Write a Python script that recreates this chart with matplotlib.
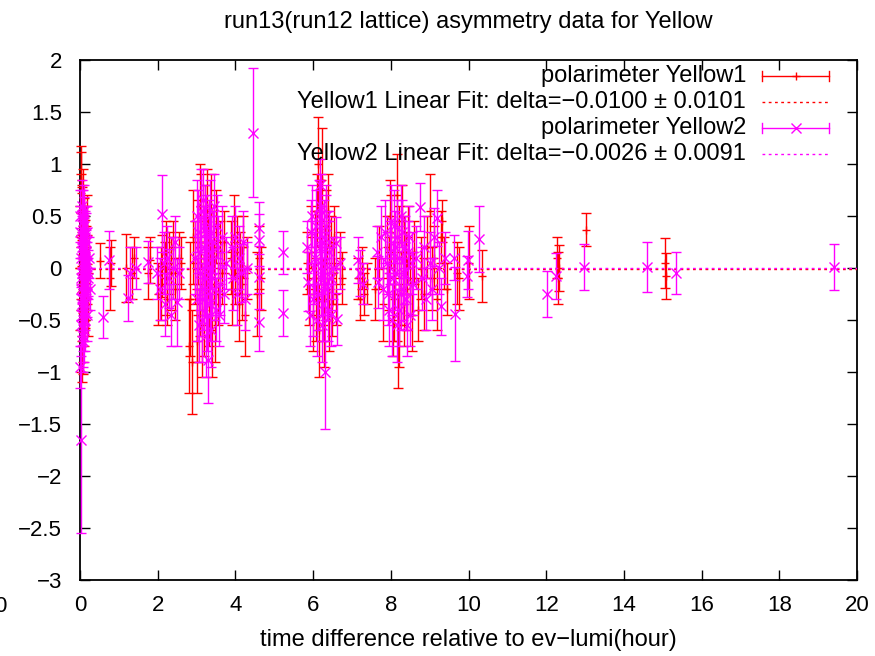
import matplotlib
matplotlib.use("Agg")
import matplotlib.pyplot as plt
from matplotlib.lines import Line2D

plt.rcParams['font.family'] = ['Liberation Sans', 'DejaVu Sans']

title = "run13(run12 lattice) asymmetry data for Yellow"
xlabel = "time difference relative to ev\u2212lumi(hour)"
xticks = [0, 2, 4, 6, 8, 10, 12, 14, 16, 18, 20]
yticks = [-3, -2.5, -2, -1.5, -1, -0.5, 0, 0.5, 1, 1.5, 2]
ytick_labels = ["\u22123", "\u22122.5", "\u22122", "\u22121.5", "\u22121", "\u22120.5", "0", "0.5", "1", "1.5", "2"]

label1 = "polarimeter Yellow1"
fit1_label = "Yellow1 Linear Fit: delta=\u22120.0100 \u00b1 0.0101"
label2 = "polarimeter Yellow2"
fit2_label = "Yellow2 Linear Fit: delta=\u22120.0026 \u00b1 0.0091"
fit1_delta = -0.0100
fit2_delta = -0.0026

# Yellow1 (red)
y1_x = [0.02, 0.03, 0.04, 0.05, 0.06, 0.07, 0.08, 0.09, 0.10, 0.11, 0.12, 0.13, 0.14, 0.15, 0.16,
        0.03, 0.05, 0.07, 0.09, 0.11, 0.13, 0.04, 0.06, 0.08, 0.10, 0.12, 0.02, 0.14, 0.17, 0.19,
        0.51, 0.76, 0.80, 1.18, 1.33, 1.38, 1.75, 1.80,
        2.02, 2.08, 2.12, 2.18, 2.22, 2.25, 2.30, 2.35, 2.40, 2.45, 2.55, 2.60,
        2.80, 2.83, 2.88, 2.95, 3.00, 3.05, 3.08, 3.12, 3.15, 3.18, 3.22, 3.25, 3.28, 3.32, 3.35, 3.40,
        3.45, 3.50, 3.55, 3.60, 3.65, 3.70,
        3.88, 3.92, 3.96, 4.00, 4.04, 4.08, 4.12, 4.16, 4.20, 4.25, 4.30, 4.55, 4.60, 4.65,
        5.85, 5.90, 5.95, 6.00, 6.05, 6.10, 6.13, 6.16, 6.20, 6.23, 6.26, 6.30, 6.33, 6.36, 6.40, 6.45,
        6.50, 6.55, 6.60, 6.70, 6.75,
        7.15, 7.20, 7.25, 7.30, 7.38,
        7.60, 7.70, 7.80, 7.90, 7.95, 8.00, 8.05, 8.10, 8.15, 8.18, 8.20, 8.25, 8.30, 8.35, 8.40, 8.45,
        8.50, 8.55, 8.60,
        8.70, 8.78, 8.85, 8.92, 9.00, 9.05, 9.12, 9.20, 9.28, 9.32, 9.38, 9.45,
        9.70, 9.75, 10.00, 10.35,
        12.28, 12.30, 12.32, 13.03, 15.06, 15.08,
        2.90, 3.02, 3.10, 3.20, 3.30, 3.38, 3.48,
        6.08, 6.18, 6.28, 6.38, 6.48,
        7.98, 8.08, 8.22, 8.33, 8.42,
        0.00, 0.01, 0.18, 0.20]
y1_val = [0.55, 0.72, -0.35, 0.40, 0.10, -0.62, 0.25, -0.15, 0.35, -0.45, 0.05, 0.18, -0.28, 0.30, -0.05,
          0.85, -0.75, 0.60, -0.55, 0.15, -0.20, 0.45, 0.02, -0.40, 0.22, -0.10, -0.70, 0.08, 0.12, -0.18,
          0.07, -0.10, 0.05, 0.00, -0.05, 0.10, -0.05, 0.08,
          -0.25, -0.15, 0.02, -0.10, 0.15, -0.30, 0.05, -0.05, 0.20, -0.20, 0.10, 0.05,
          -0.75, -0.30, -0.90, 0.05, -0.45, 0.25, -0.20, 0.45, -0.55, 0.10, 0.35, -0.10, 0.60, -0.35, 0.20, -0.60,
          0.00, 0.40, -0.25, 0.15, -0.05, 0.25,
          0.10, -0.20, 0.30, -0.05, 0.15, -0.35, 0.05, -0.15, 0.20, -0.45, 0.00, -0.25, 0.10, -0.10,
          0.05, -0.20, 0.30, -0.45, 0.15, 0.55, 1.00, -0.60, 0.25, 0.85, -0.30, 0.05, 0.40, -0.15, -0.50, 0.20,
          -0.05, 0.30, -0.25, 0.10, -0.10,
          -0.10, -0.30, 0.00, -0.25, -0.15,
          -0.20, 0.10, -0.35, 0.20, -0.05, 0.35, -0.50, 0.10, 0.70, -0.70, 0.25, -0.20, 0.45, -0.35, 0.05, 0.30,
          -0.15, -0.45, 0.15,
          -0.40, 0.00, -0.25, 0.20, 0.55, -0.10, 0.10, -0.30, 0.30, 0.45, 0.05, -0.20,
          -0.05, -0.10, 0.05, -0.08,
          0.10, -0.10, 0.00, 0.37, 0.05, -0.08,
          0.30, -0.70, 0.60, -0.40, 0.10, 0.55, -0.50,
          -0.30, 0.45, -0.55, 0.55, -0.35,
          0.50, -0.30, -0.55, 0.15, -0.25,
          0.30, -0.30, 0.40, -0.35]
y1_err = [0.35, 0.40, 0.30, 0.38, 0.25, 0.40, 0.30, 0.28, 0.32, 0.30, 0.25, 0.28, 0.30, 0.30, 0.25,
          0.32, 0.35, 0.35, 0.35, 0.25, 0.30, 0.35, 0.25, 0.30, 0.28, 0.25, 0.30, 0.22, 0.20, 0.22,
          0.17, 0.30, 0.22, 0.33, 0.25, 0.20, 0.25, 0.22,
          0.30, 0.35, 0.30, 0.35, 0.30, 0.25, 0.30, 0.35, 0.25, 0.30, 0.25, 0.25,
          0.45, 0.55, 0.50, 0.40, 0.45, 0.40, 0.45, 0.45, 0.50, 0.40, 0.45, 0.35, 0.35, 0.40, 0.35, 0.45,
          0.35, 0.35, 0.30, 0.30, 0.30, 0.30,
          0.35, 0.35, 0.40, 0.30, 0.35, 0.35, 0.30, 0.35, 0.30, 0.40, 0.30, 0.40, 0.30, 0.30,
          0.30, 0.35, 0.30, 0.35, 0.40, 0.35, 0.45, 0.45, 0.35, 0.50, 0.40, 0.35, 0.35, 0.35, 0.30, 0.30,
          0.30, 0.30, 0.30, 0.25, 0.25,
          0.20, 0.20, 0.20, 0.20, 0.20,
          0.30, 0.30, 0.35, 0.30, 0.35, 0.35, 0.35, 0.35, 0.40, 0.45, 0.35, 0.35, 0.35, 0.40, 0.30, 0.30,
          0.30, 0.35, 0.30,
          0.30, 0.30, 0.35, 0.30, 0.35, 0.30, 0.30, 0.30, 0.25, 0.20, 0.25, 0.25,
          0.30, 0.30, 0.35, 0.25,
          0.20, 0.25, 0.22, 0.16, 0.24, 0.22,
          0.45, 0.50, 0.40, 0.45, 0.40, 0.35, 0.40,
          0.40, 0.40, 0.40, 0.35, 0.30,
          0.35, 0.40, 0.40, 0.35, 0.35,
          0.30, 0.30, 0.30, 0.30]

# Yellow2 (magenta)
y2_x = [0.01, 0.02, 0.03, 0.04, 0.05, 0.06, 0.07, 0.08, 0.09, 0.10, 0.11, 0.12, 0.13, 0.14, 0.15, 0.16,
        0.17, 0.18, 0.20, 0.03, 0.05, 0.07, 0.09, 0.11, 0.13, 0.04, 0.06, 0.08, 0.10, 0.12, 0.02, 0.00, 0.14,
        0.59, 0.75, 1.24, 1.29, 1.44, 1.75, 1.97,
        2.10, 2.05, 2.15, 2.20, 2.25, 2.30, 2.35, 2.40, 2.45, 2.49, 2.55,
        2.95, 3.00, 3.05, 3.08, 3.12, 3.15, 3.18, 3.20, 3.22, 3.25, 3.28, 3.30, 3.32, 3.35, 3.38, 3.40,
        3.45, 3.50, 3.55, 3.60, 3.65, 3.70, 3.75,
        3.90, 3.95, 4.00, 4.05, 4.10, 4.15, 4.20, 4.25, 4.30, 4.45, 4.60, 4.60, 4.62, 4.62,
        5.22, 5.22,
        5.85, 5.88, 5.95, 6.00, 6.05, 6.10, 6.15, 6.18, 6.20, 6.22, 6.25, 6.28, 6.30, 6.32, 6.35, 6.40,
        6.45, 6.50, 6.60, 6.62, 6.70,
        7.16, 7.20, 7.28,
        7.64, 7.66, 7.75, 7.80, 7.90, 7.95, 8.00, 8.05, 8.10, 8.15, 8.20, 8.25, 8.30, 8.35, 8.40, 8.45,
        8.50, 8.55,
        8.74, 8.80, 8.85, 8.90, 9.00, 9.05, 9.10, 9.20, 9.25, 9.30, 9.40,
        9.62, 9.65, 9.98, 9.96, 10.28,
        12.03, 12.26, 12.98, 14.60, 15.34, 19.41,
        0.01, 0.03, 0.05, 0.07, 0.09, 0.11, 0.13, 0.15, 0.17, 0.19, 0.21, 0.23, 0.25, 0.06, 0.08,
        3.02, 3.06, 3.10, 3.14, 3.17, 3.21, 3.24, 3.27, 3.31, 3.34, 3.37, 3.42, 3.47, 3.52, 3.57,
        5.92, 5.97, 6.02, 6.07, 6.12, 6.17, 6.21, 6.24, 6.27, 6.31, 6.34, 6.38, 6.42, 6.47,
        7.85, 7.92, 7.98, 8.02, 8.08, 8.12, 8.17, 8.22, 8.27, 8.32, 8.37, 8.42, 8.48, 8.58, 8.65]
y2_val = [0.35, -0.20, 0.10, -0.45, 0.25, -0.05, 0.45, -0.30, 0.05, -0.60, 0.20, -0.15, 0.30, -0.35, 0.00, 0.15,
          -0.25, 0.05, -0.10, -0.55, 0.50, -0.70, 0.30, -0.40, 0.10, 0.20, -0.30, 0.00, 0.40, -0.50, -1.65, -0.95, 0.35,
          -0.47, 0.08, -0.29, -0.05, 0.00, 0.06, -0.05,
          0.52, -0.20, 0.05, -0.35, 0.10, -0.10, -0.45, 0.00, 0.25, -0.33, -0.05,
          0.10, -0.30, 0.35, -0.05, 0.55, -0.50, 0.20, -0.20, 0.45, -0.65, 0.05, -0.88, 0.30, -0.35, 0.15, -0.10,
          0.60, -0.40, 0.20, -0.15, 0.30, -0.25, 0.05,
          0.20, -0.10, 0.30, -0.25, 0.10, -0.05, 0.25, -0.30, 0.00, 1.30, 0.38, 0.27, -0.09, -0.52,
          0.15, -0.43,
          0.20, -0.13, 0.35, -0.30, 0.10, -0.50, 0.50, 0.80, -0.10, 0.25, -0.35, 0.05, -1.00, 0.40, -0.20, 0.15,
          -0.45, 0.00, 0.24, -0.49, 0.05,
          0.08, -0.05, -0.15,
          0.15, -0.13, 0.30, -0.20, 0.05, -0.40, 0.45, -0.10, 0.20, -0.55, 0.10, -0.25, 0.35, -0.05, -0.30, 0.15,
          -0.45, 0.05,
          0.59, -0.10, 0.20, -0.30, 0.05, -0.20, 0.30, 0.48, 0.00, -0.37, 0.10,
          0.10, -0.44, 0.08, -0.08, 0.28,
          -0.25, -0.08, 0.01, 0.01, -0.05, 0.01,
          0.50, -0.10, -0.35, 0.15, -0.50, 0.55, -0.25, 0.25, -0.45, 0.35, -0.05, 0.10, -0.20, 0.60, -0.65,
          0.50, -0.55, 0.15, -0.30, 0.65, -0.10, 0.35, -0.45, 0.00, 0.55, -0.60, 0.25, -0.20, 0.40, -0.45,
          -0.45, 0.50, 0.00, 0.40, -0.25, 0.20, 0.60, -0.55, 0.30, -0.15, 0.50, -0.40, 0.25, -0.10,
          0.35, -0.25, 0.15, -0.50, 0.40, -0.05, 0.30, -0.40, 0.50, -0.20, 0.20, -0.55, 0.30, -0.15, 0.10]
y2_err = [0.25, 0.30, 0.28, 0.30, 0.30, 0.28, 0.30, 0.30, 0.25, 0.30, 0.28, 0.28, 0.25, 0.25, 0.25, 0.22,
          0.22, 0.20, 0.20, 0.30, 0.25, 0.30, 0.30, 0.30, 0.28, 0.30, 0.30, 0.25, 0.28, 0.30, 0.90, 0.20, 0.25,
          0.20, 0.28, 0.22, 0.25, 0.20, 0.20, 0.25,
          0.37, 0.30, 0.30, 0.30, 0.30, 0.28, 0.30, 0.30, 0.25, 0.42, 0.25,
          0.35, 0.40, 0.40, 0.35, 0.40, 0.40, 0.40, 0.40, 0.35, 0.40, 0.35, 0.42, 0.35, 0.35, 0.35, 0.35,
          0.30, 0.30, 0.30, 0.30, 0.30, 0.28, 0.25,
          0.30, 0.30, 0.30, 0.30, 0.30, 0.28, 0.30, 0.30, 0.25, 0.62, 0.25, 0.25, 0.30, 0.28,
          0.21, 0.22,
          0.25, 0.28, 0.30, 0.35, 0.35, 0.35, 0.35, 0.25, 0.35, 0.35, 0.35, 0.30, 0.55, 0.30, 0.30, 0.30,
          0.30, 0.30, 0.25, 0.25, 0.25,
          0.22, 0.22, 0.20,
          0.25, 0.25, 0.30, 0.30, 0.30, 0.35, 0.35, 0.35, 0.35, 0.35, 0.30, 0.35, 0.30, 0.30, 0.30, 0.30,
          0.30, 0.30,
          0.23, 0.30, 0.30, 0.30, 0.30, 0.30, 0.28, 0.27, 0.25, 0.27, 0.25,
          0.22, 0.45, 0.28, 0.20, 0.32,
          0.22, 0.22, 0.22, 0.24, 0.20, 0.22,
          0.25, 0.30, 0.30, 0.30, 0.30, 0.25, 0.30, 0.28, 0.25, 0.25, 0.22, 0.20, 0.20, 0.25, 0.30,
          0.35, 0.35, 0.35, 0.35, 0.30, 0.35, 0.35, 0.35, 0.35, 0.30, 0.35, 0.30, 0.30, 0.30, 0.30,
          0.30, 0.30, 0.35, 0.35, 0.35, 0.35, 0.30, 0.35, 0.35, 0.35, 0.30, 0.30, 0.30, 0.30,
          0.30, 0.30, 0.30, 0.35, 0.35, 0.35, 0.35, 0.35, 0.30, 0.30, 0.30, 0.30, 0.30, 0.30, 0.30]

RED = "#ff0000"
MAG = "#ff00ff"
FS = 17

fig = plt.figure(figsize=(8.75, 6.56), dpi=100)
ax = fig.add_axes([80 / 875, 1 - 580 / 656, (857 - 80) / 875, (580 - 60) / 656])

c1 = ax.errorbar(y1_x, y1_val, yerr=y1_err, fmt='+', color=RED, ecolor=RED, elinewidth=1.0,
                 capsize=3.5, capthick=1.0, markersize=6, markeredgewidth=1.0, zorder=2)
ax.plot([0, 20], [fit1_delta, fit1_delta], color=RED, linestyle=(0, (2, 2.5)), linewidth=1.0, zorder=3)
c2 = ax.errorbar(y2_x, y2_val, yerr=y2_err, fmt='x', color=MAG, ecolor=MAG, elinewidth=1.0,
                 capsize=3.5, capthick=1.0, markersize=7, markeredgewidth=1.0, zorder=4)
ax.plot([0, 20], [fit2_delta, fit2_delta], color=MAG, linestyle=(0, (2, 2.5)), linewidth=1.0, zorder=5)
for cont in (c1, c2):
    for art in cont.get_children():
        art.set_clip_on(False)

ax.set_xlim(0, 20)
ax.set_ylim(-3, 2)
ax.set_xticks(xticks)
ax.set_xticklabels([str(t) for t in xticks])
ax.set_yticks(yticks)
ax.set_yticklabels(ytick_labels)
ax.tick_params(direction='in', length=7, width=1, top=True, right=True, labelsize=16, colors='black')
ax.tick_params(axis='y', pad=13)
ax.tick_params(axis='x', pad=11)
for s in ax.spines.values():
    s.set_linewidth(1.3)
    s.set_zorder(1)

ax.set_title(title, fontsize=FS, pad=23)
ax.set_xlabel(xlabel, fontsize=FS, labelpad=9)

# stray clipped label at far left (as in the reference)
fig.text(0.0, 1 - 606 / 656, "0", fontsize=16, ha='center', va='center')

# Legend drawn in gnuplot style
rows = [76, 102, 128, 154]
labels = [label1, fit1_label, label2, fit2_label]
colors = [RED, RED, MAG, MAG]
kinds = ['err+', 'dot', 'errx', 'dot']
x0_px, x1_px = 762, 829
xt_px = 746
def fx(px):
    return px / 875
def fy(py):
    return 1 - py / 656
for r, lab, c, k in zip(rows, labels, colors, kinds):
    fig.text(fx(xt_px), fy(r), lab, fontsize=FS, ha='right', va='center', color='black')
    if k == 'dot':
        fig.add_artist(Line2D([fx(x0_px), fx(x1_px)], [fy(r), fy(r)], color=c,
                              linestyle=(0, (2, 2.5)), linewidth=1.0))
    else:
        fig.add_artist(Line2D([fx(x0_px), fx(x1_px)], [fy(r), fy(r)], color=c, linewidth=1.0))
        for xe in (x0_px, x1_px):
            fig.add_artist(Line2D([fx(xe), fx(xe)], [fy(r - 5), fy(r + 5)], color=c, linewidth=1.0))
        mk = '+' if k == 'err+' else 'x'
        ms = 6 if k == 'err+' else 7
        fig.add_artist(Line2D([fx((x0_px + x1_px) / 2)], [fy(r)], color=c, marker=mk,
                              markersize=ms, markeredgewidth=1.0, linestyle='none'))

fig.savefig("out.png", dpi=100)
